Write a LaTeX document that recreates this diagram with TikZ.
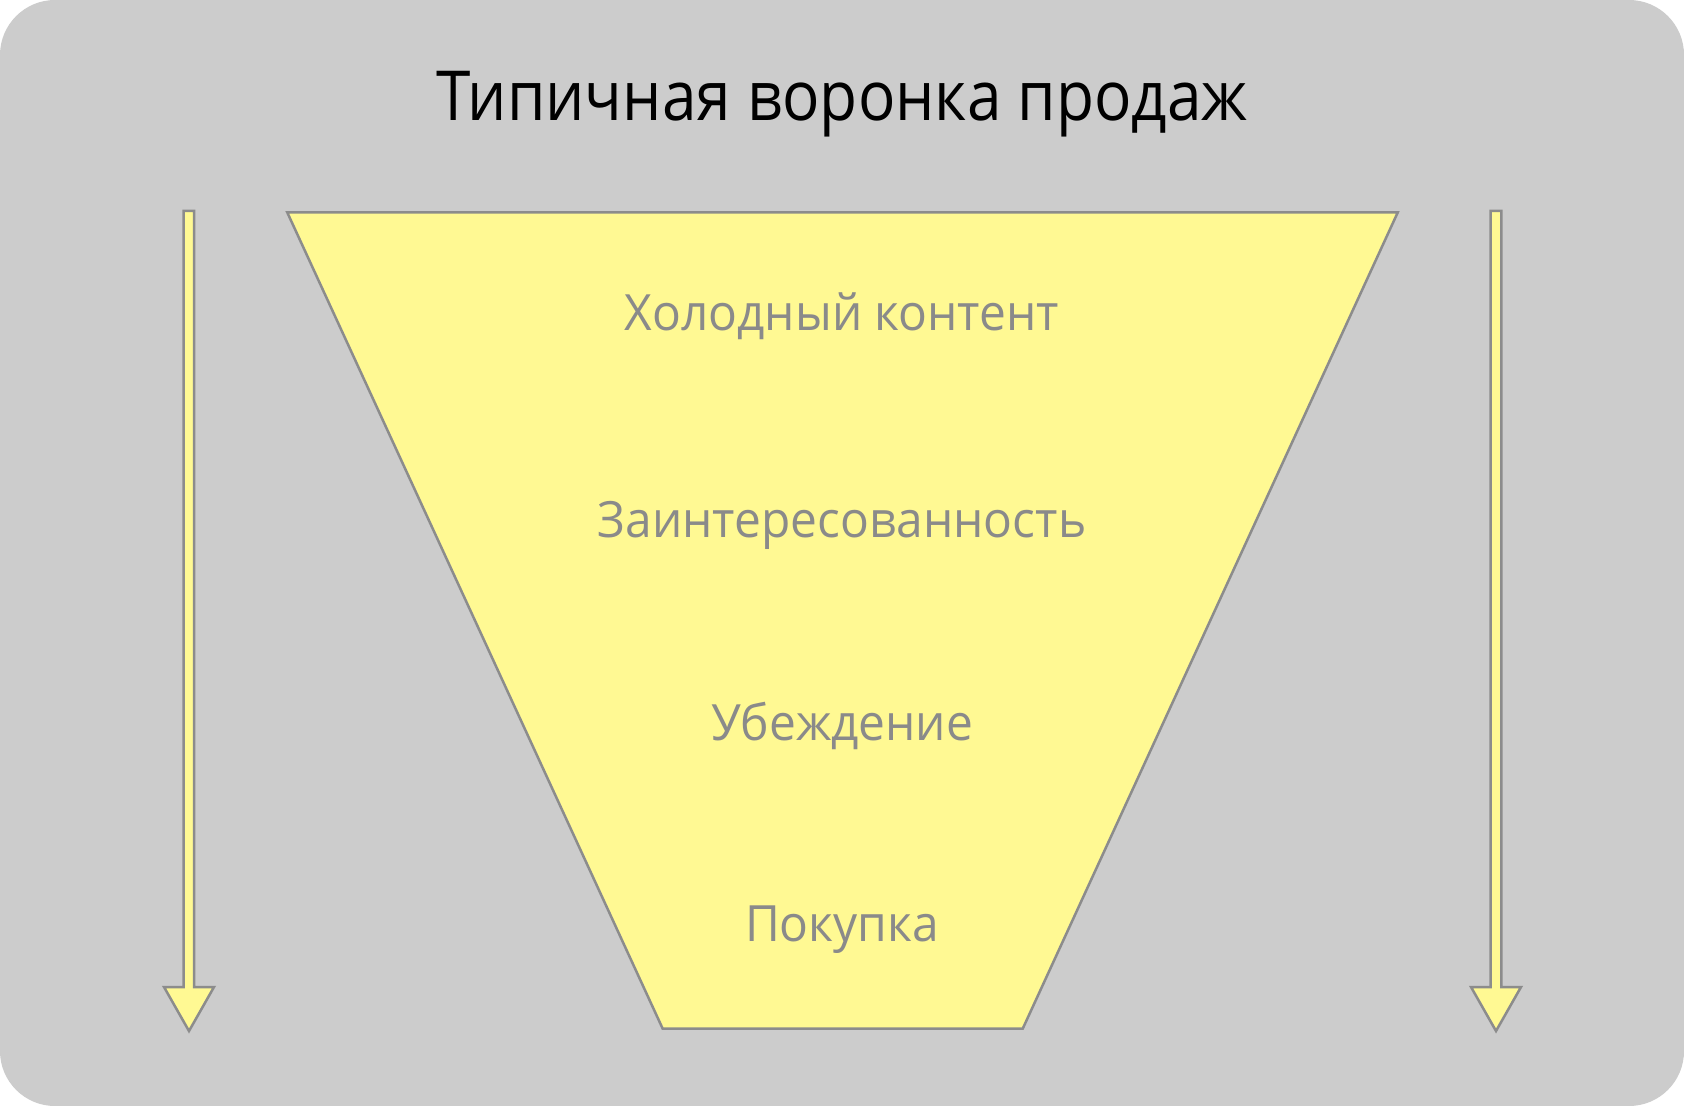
\documentclass[tikz,border=0pt]{standalone}
\usepackage{fontspec}
\setmainfont{Open Sans}
\newfontfamily\titlefont[FakeStretch=0.90]{Open Sans}
\newfontfamily\stagefont[FakeStretch=0.957]{Open Sans}
\definecolor{bggrey}{HTML}{CCCCCC}
\definecolor{funnelyellow}{HTML}{FFF993}
\definecolor{edgegrey}{HTML}{8C8C8C}
\definecolor{labelgrey}{HTML}{8A8A8A}
\tikzset{
  shapeedge/.style={draw=edgegrey, fill=funnelyellow, line width=1.25pt, line join=miter},
  stagelabel/.style={anchor=base, text=labelgrey, font=\stagefont\fontsize{25}{30}\selectfont, inner sep=0pt},
  titlelabel/.style={anchor=base, text=black, font=\titlefont\fontsize{34.5}{40}\selectfont, inner sep=0pt}
}
\begin{document}
\begin{tikzpicture}[x=0.5pt,y=-0.5pt]
\useasboundingbox (0,0) rectangle (1684,1106);
\fill[white] (0,0) rectangle (1684,1106);
\fill[bggrey, rounded corners=27.5pt] (0,0) rectangle (1684,1106);
% title
\node[titlelabel] (title) at (842,120.7) {Типичная воронка продаж};
% funnel
\draw[shapeedge] (287.3,212.5) -- (1397.7,212.5) -- (1022.7,1028.7) -- (662.7,1028.7) -- cycle;
% left arrow
\draw[shapeedge] (183.5,211) -- (194,211) -- (194,987) -- (214,987) -- (189,1031) -- (164,987) -- (183.5,987) -- cycle;
% right arrow
\draw[shapeedge] (1490.7,211) -- (1501.3,211) -- (1501.3,987) -- (1521,987) -- (1496,1031) -- (1471,987) -- (1490.7,987) -- cycle;
% labels
\node[stagelabel] (cold) at (842,331) {Холодный контент};
\node[stagelabel] (interest) at (842,537) {Заинтересованность};
\node[stagelabel] (persuade) at (842,740) {Убеждение};
\node[stagelabel] (buy) at (842,941) {Покупка};
\end{tikzpicture}
\end{document}
